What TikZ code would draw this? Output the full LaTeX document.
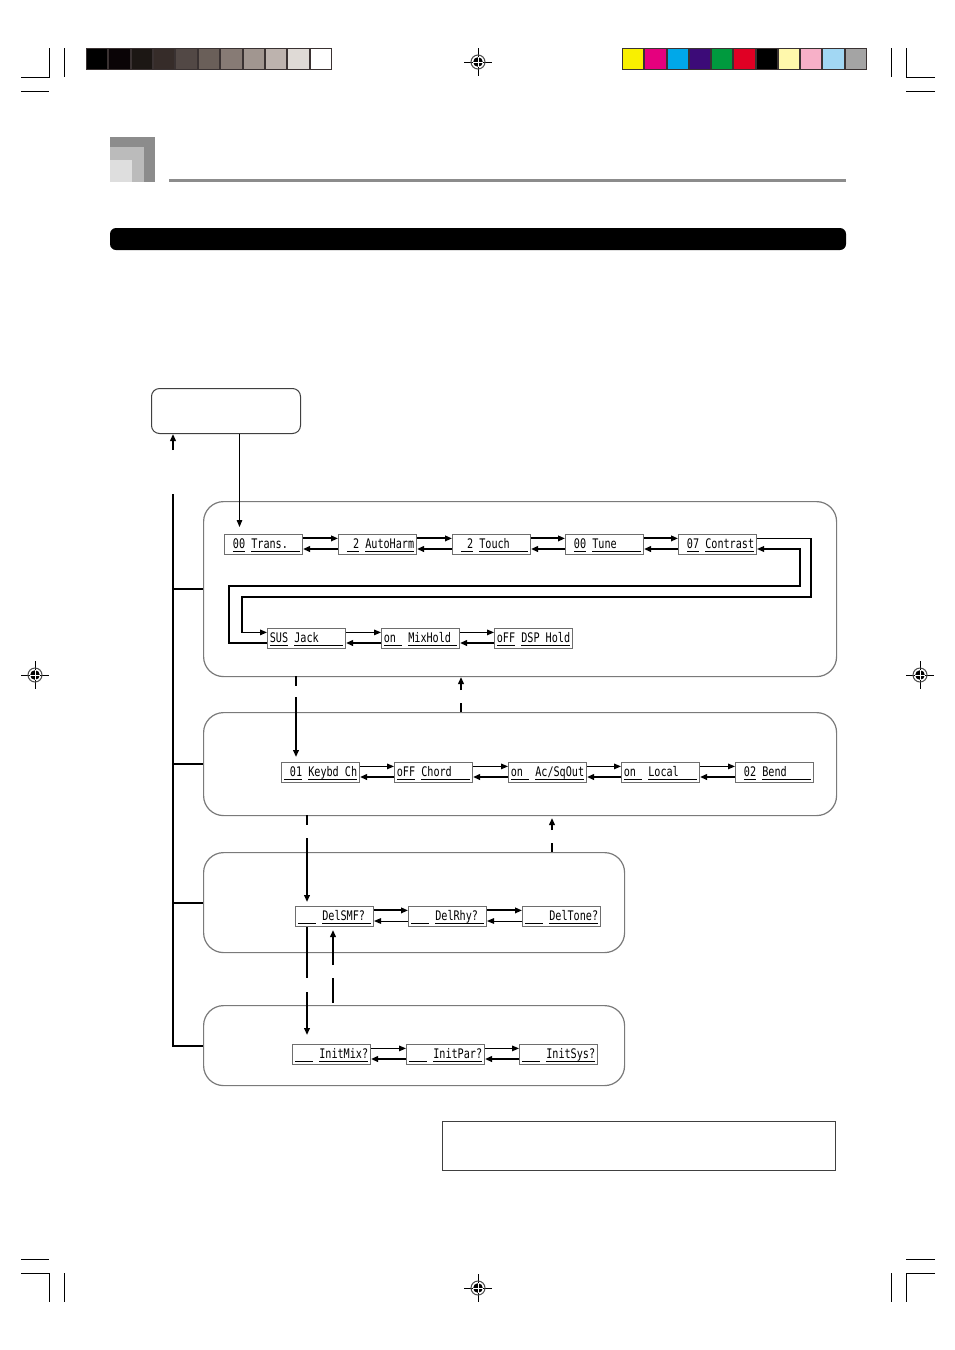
\documentclass[tikz,border=0pt]{standalone}
\usepackage{fontspec}
\newfontfamily\lcdfont{DejaVu Sans Mono}[FakeStretch=0.77]
\usetikzlibrary{arrows.meta}
\definecolor{barframe}{HTML}{3A3232}
\definecolor{dispgray}{HTML}{6E6E6E}
\definecolor{grpgray}{HTML}{7A7A7A}
\definecolor{hdrdark}{HTML}{8C8C8C}
\definecolor{hdrmid}{HTML}{BBBBBB}
\definecolor{hdrlight}{HTML}{DEDEDE}
\newcommand\ul[1]{\underline{\smash{#1}}}
\tikzset{
  regmark/.pic={
    \draw[line width=0.5pt] (-14,0) -- (14,0) (0,-14) -- (0,14);
    \draw[line width=0.5pt, black!70] (0,0) circle (7);
    \fill[black] (0,0) circle (4.8);
    \draw[white, line width=0.5pt] (-4.8,0) -- (4.8,0) (0,-4.8) -- (0,4.8);
  }
}
\begin{document}
\begin{tikzpicture}[x=0.5pt,y=-0.5pt,
  disp/.style={draw=dispgray, line width=0.5pt, minimum width=39pt, minimum height=10pt,
    inner sep=0pt, anchor=north west, font=\lcdfont\fontsize{6.6}{7}\selectfont,
    text height=5.2pt, text depth=1.0pt},
  grp/.style={draw=grpgray, line width=0.6pt, rounded corners=10pt, anchor=north west, inner sep=0pt},
  tip/.style={-{Triangle[length=3.5pt,width=2.8pt]}},
  thk/.style={line width=1pt, tip},
  thn/.style={line width=0.5pt, tip},
  lp/.style={line width=0.7pt, tip},
  crop/.style={line width=0.5pt, black},
  tree/.style={line width=1pt}
]
\useasboundingbox (0,0) rectangle (954,1350);
\fill[white] (0,0) rectangle (954,1350);

% crop marks
\draw[crop] (21,77) -- (49,77) -- (49,48) (21,91) -- (49,91) (64,48) -- (64,77);
\draw[crop] (935,77) -- (906,77) -- (906,48) (935,91) -- (906,91) (891,48) -- (891,77);
\draw[crop] (21,1273) -- (49,1273) -- (49,1302) (21,1259) -- (49,1259) (64,1273) -- (64,1302);
\draw[crop] (935,1273) -- (906,1273) -- (906,1302) (935,1259) -- (906,1259) (891,1273) -- (891,1302);

% registration marks
\pic at (478,62) {regmark};
\pic at (478,1288) {regmark};
\pic at (35,675) {regmark};
\pic at (920,675) {regmark};

% gray scale bar
\fill[barframe] (86,48) rectangle (332,70);
\foreach \c [count=\i from 0] in {000000,0A0406,1C1714,362C29,524845,6A5F59,877B75,A19690,BDB3AE,DFDAD6,FFFFFF} {
  \definecolor{sw}{HTML}{\c}
  \fill[sw] ({86+\i*22.36+1},49) rectangle ({86+(\i+1)*22.36-1},69);
}
% colour bar
\fill[barframe] (622,48) rectangle (867,70);
\foreach \c [count=\i from 0] in {F9F000,E5007E,00A8E9,3C0B78,009A3E,E00024,000000,FFF8AC,F7B0C8,A2D7F3,A4A4A4} {
  \definecolor{sw}{HTML}{\c}
  \fill[sw] ({622+\i*22.27+1},49) rectangle ({622+(\i+1)*22.27-1},69);
}

% header
\fill[hdrdark] (110,137) rectangle (155,182);
\fill[hdrmid] (110,147) rectangle (144,182);
\fill[hdrlight] (110,160) rectangle (132,182);
\fill[hdrdark] (169,179) rectangle (846,182);
\fill[black, rounded corners=3pt] (110,228) rectangle (846,250);

% menu box
\node[draw=black!75, line width=0.5pt, rounded corners=4pt, anchor=north west, inner sep=0pt,
  minimum width=74.5pt, minimum height=22.5pt] (menu) at (151,388) {};

% group boxes
\node[grp, minimum width=316.5pt, minimum height=87.5pt] (g1) at (203,501) {};
\node[grp, minimum width=316.5pt, minimum height=51.5pt] (g2) at (203,712) {};
\node[grp, minimum width=210.5pt, minimum height=50pt] (g3) at (203,852) {};
\node[grp, minimum width=210.5pt, minimum height=40pt] (g4) at (203,1005) {};

% bottom note box
\node[draw=black!75, line width=0.5pt, anchor=north west, inner sep=0pt,
  minimum width=196.5pt, minimum height=24.5pt] (note) at (442,1121) {};

% displays row 1
\node[disp] (d1) at (224,534) {~\ul{00}~\ul{Trans.~~}};
\node[disp] (d2) at (338,534) {~\ul{~2}~\ul{AutoHarm}};
\node[disp] (d3) at (452,534) {~\ul{~2}~\ul{Touch~~~}};
\node[disp] (d4) at (565,534) {~\ul{00}~\ul{Tune~~~~}};
\node[disp] (d5) at (678,534) {~\ul{07}~\ul{Contrast}};
% row 2
\node[disp] (s1) at (267,628) {\ul{SUS}~\ul{Jack~~~~}};
\node[disp] (s2) at (381,628) {\ul{on~}~\ul{MixHold~}};
\node[disp] (s3) at (494,628) {\ul{oFF}~\ul{DSP~Hold}};
% row 3
\node[disp] (k1) at (281,762) {\ul{~01}~\ul{Keybd~Ch}};
\node[disp] (k2) at (394,762) {\ul{oFF}~\ul{Chord~~~}};
\node[disp] (k3) at (508,762) {\ul{on~}~\ul{Ac/SqOut}};
\node[disp] (k4) at (621,762) {\ul{on~}~\ul{Local~~~}};
\node[disp] (k5) at (735,762) {~\ul{02}~\ul{Bend~~~~}};
% row 4
\node[disp] (e1) at (295,906) {\ul{~~~}~\ul{DelSMF?~}};
\node[disp] (e2) at (408,906) {\ul{~~~}~\ul{DelRhy?~}};
\node[disp] (e3) at (522,906) {\ul{~~~}~\ul{DelTone?}};
% row 5
\node[disp] (i1) at (292,1044) {\ul{~~~}~\ul{InitMix?}};
\node[disp] (i2) at (406,1044) {\ul{~~~}~\ul{InitPar?}};
\node[disp] (i3) at (519,1044) {\ul{~~~}~\ul{InitSys?}};

% pair arrows: #1 left node, #2 right node, #3 style forward, #4 style back
\newcommand\pairarrows[4]{%
  \draw[#3] ([yshift=-2.2pt]#1.north east) -- ([yshift=-2.2pt]#2.north west);
  \draw[#4] ([yshift=-7.5pt]#2.north west) -- ([yshift=-7.5pt]#1.north east);
}
\pairarrows{d1}{d2}{thk}{thk}
\pairarrows{d2}{d3}{thk}{thk}
\pairarrows{d3}{d4}{thk}{thk}
\pairarrows{d4}{d5}{thk}{thk}
\pairarrows{s1}{s2}{thn}{thk}
\pairarrows{s2}{s3}{thn}{thk}
\pairarrows{k1}{k2}{thn}{thk}
\pairarrows{k2}{k3}{thn}{thk}
\pairarrows{k3}{k4}{thn}{thk}
\pairarrows{k4}{k5}{thn}{thk}
\pairarrows{e1}{e2}{thk}{thn}
\pairarrows{e2}{e3}{thk}{thn}
\pairarrows{i1}{i2}{thn}{thk}
\pairarrows{i2}{i3}{thn}{thk}

% loop between row 1 and row 2
\draw[lp] ([yshift=-2.2pt]d5.north east) -| (811,597) -- (242,597) |- ([yshift=-2.2pt]s1.north west);
\draw[lp] ([yshift=-7.5pt]s1.north west) -| (229,586) -- (800,586) |- ([yshift=-7.5pt]d5.north east);

% tree on the left
\coordinate (trunk) at (173,494);
\draw[tree] (trunk) |- (g4.west);
\draw[tree] (trunk |- g1.west) -- (g1.west);
\draw[tree] (trunk |- g2.west) -- (g2.west);
\draw[tree] (trunk |- g3.west) -- (g3.west);

% return arrow to menu box
\coordinate (ret) at (173,450);
\draw[thk] (ret) -- (ret |- menu.south);
% menu box to first display
\coordinate (m1) at ([xshift=6.75pt]menu.south);
\draw[thn, shorten >=3.5pt] (m1) -- (m1 |- d1.north);

% group 1 -> group 2 (down) and back (up)
\draw[tree] (296,676) -- (296,686);
\draw[thk] (296,697) -- (296,757);
\draw[tree] (461,712) -- (461,703);
\draw[thk] (461,690) -- (461,677);
% group 2 -> group 3 and back
\draw[tree] (307,815) -- (307,825);
\draw[thk] (307,838) -- (307,902);
\draw[tree] (552,852) -- (552,843);
\draw[thk] (552,830) -- (552,818);
% group 3 -> group 4 and back
\draw[tree] (e1.south -| 307,0) -- (307,978);
\draw[thk] (307,992) -- (307,1035);
\draw[tree] (333,1003) -- (333,978);
\draw[thk] (333,965) -- (333,930);
\end{tikzpicture}
\end{document}
